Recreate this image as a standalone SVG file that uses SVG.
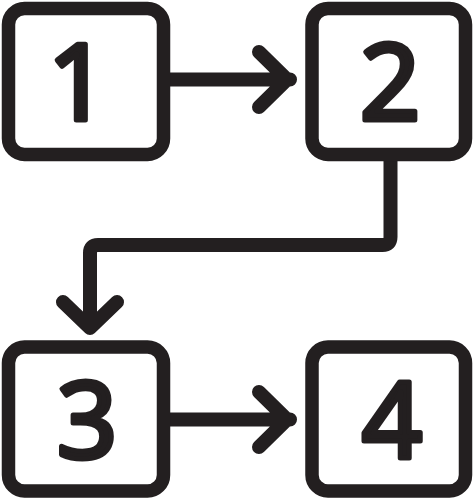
<svg xmlns="http://www.w3.org/2000/svg" width="475" height="500" viewBox="0 0 475 500">
<style>
.box{fill:#fff;stroke:#231f20;stroke-width:13.5}
.num{font-family:"Noto Sans","Open Sans",sans-serif;font-size:106px;fill:#231f20;stroke:#231f20;stroke-width:5;stroke-linejoin:round;text-anchor:middle}
.ln{fill:none;stroke:#231f20;stroke-width:14;stroke-linecap:round;stroke-linejoin:round}
</style>
<rect width="475" height="500" fill="#fff"/>
<g id="connectors">
<path class="ln" d="M170 79.5H290M259 52L287 79.5L259 107"/>
<path class="ln" d="M170 419.5H290M259 392L287 419.5L259 447"/>
<path class="ln" d="M390.5 160V237Q390.5 245 382.5 245H98Q90 245 90 253V327M63 302L90 328L117 302"/>
</g>
<g id="node1"><rect class="box" x="8.5" y="8.5" width="155" height="146" rx="16"/><text class="num" x="78" y="120">1</text></g>
<g id="node2"><rect class="box" x="312" y="8.5" width="153.5" height="146" rx="16"/><text class="num" x="390" y="120">2</text></g>
<g id="node3"><rect class="box" x="8.5" y="347" width="155" height="144" rx="16"/><text class="num" x="87" y="458">3</text></g>
<g id="node4"><rect class="box" x="312" y="347" width="153.5" height="144" rx="16"/><text class="num" x="392" y="458">4</text></g>
</svg>
